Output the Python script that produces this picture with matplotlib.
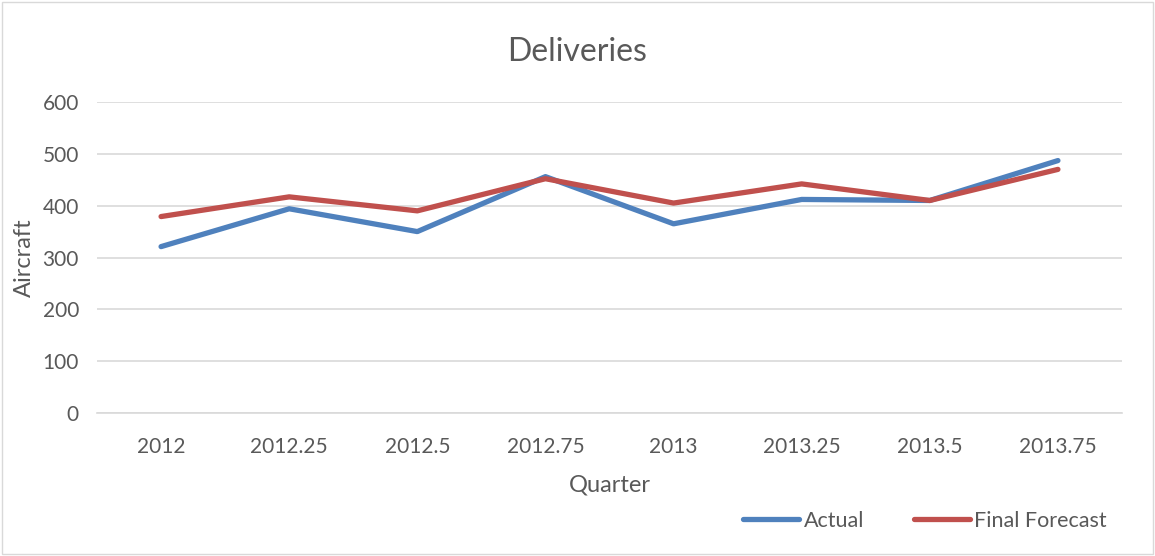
import numpy as np
import matplotlib.pyplot as plt
from matplotlib.patches import Rectangle

plt.rcParams['font.family'] = ['Lato', 'DejaVu Sans']

quarters = ['2012', '2012.25', '2012.5', '2012.75', '2013', '2013.25', '2013.5', '2013.75']
actual = [321, 394, 350, 456, 365, 412, 410, 487]
final_forecast = [379, 417, 390, 452, 405, 442, 410, 470]

text_color = '#595959'
grid_color = '#d9d9d9'

fig = plt.figure(figsize=(11.55, 5.56), dpi=100)
ax = fig.add_axes([97/1155, 1 - 413/556, (1122 - 97)/1155, (413 - 102)/556])

x = np.arange(len(quarters))
ax.plot(x, actual, color='#4F81BD', linewidth=3.8, solid_capstyle='round', label='Actual')
ax.plot(x, final_forecast, color='#C0504D', linewidth=3.8, solid_capstyle='round', label='Final Forecast')

ax.set_xlim(-0.5, len(quarters) - 0.5)
ax.set_ylim(0, 600)
ax.set_yticks(np.arange(0, 601, 100))
ax.set_xticks(x)
ax.set_xticklabels(quarters)
ax.yaxis.grid(True, color=grid_color, linewidth=1.2)
ax.set_axisbelow(True)
for side in ['top', 'right', 'left']:
    ax.spines[side].set_visible(False)
ax.spines['bottom'].set_color(grid_color)
ax.spines['bottom'].set_linewidth(1.2)
ax.tick_params(axis='both', length=0, labelsize=15, colors=text_color)
ax.tick_params(axis='x', pad=17)
ax.tick_params(axis='y', pad=13)

ax.set_xlabel('Quarter', fontsize=17, color=text_color)
ax.xaxis.set_label_coords(0.5, -0.197)
ax.set_ylabel('Aircraft', fontsize=17, color=text_color)
ax.yaxis.set_label_coords(-0.061, 0.5)
fig.text(0.5, 1 - 52/556, 'Deliveries', ha='center', va='center',
         fontsize=23, color=text_color)

leg = ax.legend(loc='center', bbox_to_anchor=(925/1155, 1 - 521/556), bbox_transform=fig.transFigure,
                ncol=2, frameon=False, fontsize=15.5, handlelength=2.6, handletextpad=0.2,
                columnspacing=2.3)
for t in leg.get_texts():
    t.set_color(text_color)

fig.patches.append(Rectangle((0.002, 0.003), 0.996, 0.994, transform=fig.transFigure,
                             fill=False, edgecolor='#d9d9d9', linewidth=1))

fig.savefig('out.png', dpi=100)
